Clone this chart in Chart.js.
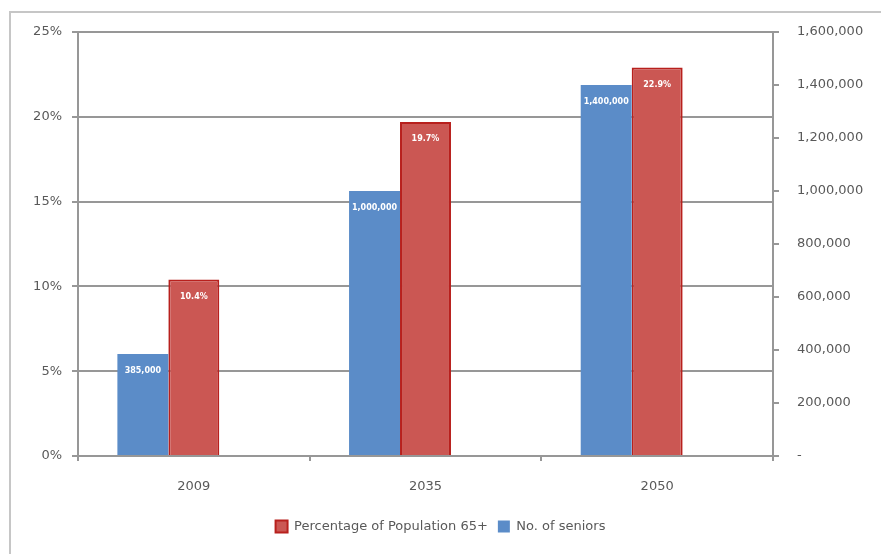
<!DOCTYPE html>
<html>
<head>
<meta charset="utf-8">
<title>Seniors chart</title>
<script src="https://cdn.jsdelivr.net/npm/chart.js@4.4.0/dist/chart.umd.min.js"></script>
<style>
  html, body { margin: 0; padding: 0; background: #fff; }
  #wrap { width: 881px; height: 554px; }
</style>
</head>
<body>
<div id="wrap"><canvas id="seniors-chart" width="881" height="554"></canvas></div>
<script>
// values
const years = ['2009', '2035', '2050'];
const seniors = [385000, 1000000, 1400000];       // No. of seniors (right axis)
const pctOver65 = [10.4, 19.7, 22.9];             // Percentage of Population 65+ (left axis)
const emptySlot = [null, null, null];             // empty third series, keeps the pair left of the label like the original
const pctTicks = [0, 5, 10, 15, 20, 25];
const seniorTicks = [0, 200000, 400000, 600000, 800000, 1000000, 1200000, 1400000, 1600000];

const BLUE = '#5b8cc8';
const RED = '#cb5753';
const RED_EDGE = '#b8201d';
const GRID = '#979797';
const TEXT = '#595959';
const FONT = 'DejaVu Sans';

// light grey frame round the whole chart, like the Excel chart area
const framePlugin = {
    id: 'frame',
    beforeDraw(chart) {
        const ctx = chart.ctx;
        ctx.save();
        ctx.fillStyle = '#fff';
        ctx.fillRect(0, 0, chart.width, chart.height);
        ctx.strokeStyle = '#c6c6c6';
        ctx.lineWidth = 2;
        ctx.beginPath();
        ctx.moveTo(10, chart.height + 5);
        ctx.lineTo(10, 12);
        ctx.lineTo(chart.width + 5, 12);
        ctx.stroke();
        ctx.restore();
    }
};

// white value labels near the top of each bar
const valueLabels = {
    id: 'valueLabels',
    afterDatasetsDraw(chart) {
        const ctx = chart.ctx;
        ctx.save();
        ctx.fillStyle = '#fff';
        ctx.font = 'bold 8px ' + FONT;
        ctx.textAlign = 'center';
        ctx.textBaseline = 'middle';
        chart.data.datasets.forEach((ds, i) => {
            chart.getDatasetMeta(i).data.forEach((bar, j) => {
                const v = ds.data[j];
                if (v == null) return;
                const txt = ds.yAxisID === 'y' ? v.toFixed(1) + '%' : v.toLocaleString('en-US');
                ctx.fillText(txt, bar.x, bar.y + 17);
            });
        });
        ctx.restore();
    }
};

new Chart(document.getElementById('seniors-chart'), {
    type: 'bar',
    data: {
        labels: years,
        datasets: [
            {
                label: 'No. of seniors',
                data: seniors,
                yAxisID: 'y1',
                backgroundColor: BLUE,
                borderWidth: 0,
                categoryPercentage: 0.66,
                barPercentage: 1.0
            },
            {
                label: 'Percentage of Population 65+',
                data: pctOver65,
                yAxisID: 'y',
                backgroundColor: RED,
                borderColor: RED_EDGE,
                borderWidth: 2,
                categoryPercentage: 0.66,
                barPercentage: 1.0
            },
            {
                label: '',
                data: emptySlot,
                yAxisID: 'y',
                backgroundColor: 'rgba(0,0,0,0)',
                categoryPercentage: 0.66,
                barPercentage: 1.0
            }
        ]
    },
    options: {
        responsive: false,
        animation: false,
        devicePixelRatio: 1,
        layout: { padding: { top: 32, right: 0, bottom: 11, left: 0 } },
        plugins: {
            legend: {
                position: 'bottom',
                reverse: true,
                labels: {
                    boxWidth: 12,
                    boxHeight: 12,
                    padding: 10,
                    color: TEXT,
                    font: { family: FONT, size: 13 },
                    filter: item => item.text !== ''
                }
            },
            tooltip: { enabled: false }
        },
        scales: {
            x: {
                grid: { display: true, drawOnChartArea: false, tickLength: 5, color: GRID, lineWidth: 2 },
                border: { display: true, color: GRID, width: 2 },
                ticks: { color: TEXT, padding: 18, font: { family: FONT, size: 13 } },
                afterFit: s => { s.height = 54; }
            },
            y: {
                position: 'left',
                min: 0,
                max: 25,
                afterBuildTicks: s => { s.ticks = pctTicks.map(v => ({ value: v })); },
                grid: { color: GRID, lineWidth: 2, tickLength: 6 },
                border: { display: true, color: GRID, width: 2 },
                ticks: {
                    color: TEXT,
                    padding: 10,
                    font: { family: FONT, size: 13 },
                    callback: v => v + '%'
                },
                afterFit: s => { s.width = 78; }
            },
            y1: {
                position: 'right',
                min: 0,
                max: 1600000,
                afterBuildTicks: s => { s.ticks = seniorTicks.map(v => ({ value: v })); },
                grid: { drawOnChartArea: false, color: GRID, lineWidth: 2, tickLength: 6 },
                border: { display: true, color: GRID, width: 2 },
                ticks: {
                    color: TEXT,
                    padding: 18,
                    font: { family: FONT, size: 13 },
                    callback: v => v === 0 ? '-' : v.toLocaleString('en-US')
                },
                afterFit: s => { s.width = 108; }
            }
        }
    },
    plugins: [framePlugin, valueLabels]
});
</script>
</body>
</html>
